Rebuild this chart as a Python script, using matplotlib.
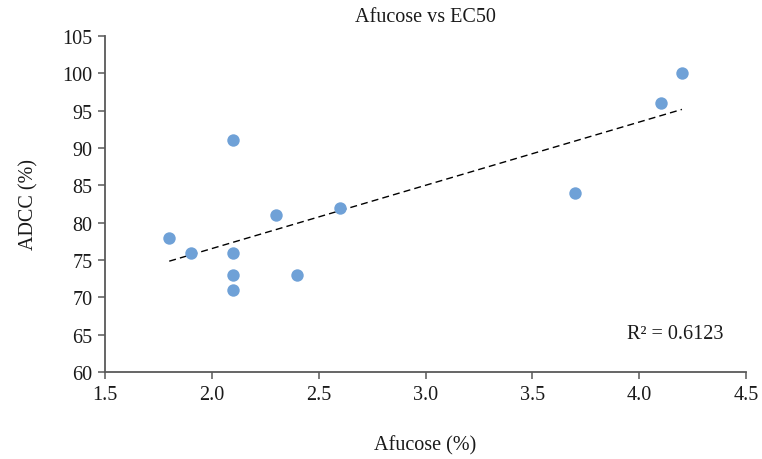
import numpy as np
import matplotlib.pyplot as plt

plt.rcParams['font.family'] = ['Liberation Serif', 'DejaVu Serif']

# afucose content (%) and ADCC activity (%)
afucose = [1.8, 1.9, 2.1, 2.1, 2.1, 2.1, 2.3, 2.4, 2.6, 3.7, 4.1, 4.2]
adcc = [78, 76, 91, 76, 73, 71, 81, 73, 82, 84, 96, 100]
r_squared = 0.6123

x_ticks = [1.5, 2.0, 2.5, 3.0, 3.5, 4.0, 4.5]
y_ticks = [60, 65, 70, 75, 80, 85, 90, 95, 100, 105]

fig = plt.figure(figsize=(7.62, 4.60), dpi=100)
ax = fig.add_axes([0.138, 0.189, 0.841, 0.731])

ax.scatter(afucose, adcc, s=80, color='#6fa1d7', zorder=3, linewidths=0)

# linear trend line over the data range
coef = np.polyfit(afucose, adcc, 1)
xs = np.array([min(afucose), max(afucose)])
ax.plot(xs, np.polyval(coef, xs), color='black', linestyle=(0, (5, 3)), linewidth=1.0)

ax.set_xlim(1.5, 4.5)
ax.set_ylim(60, 105)
ax.set_xticks(x_ticks)
ax.set_xticklabels(['%.1f' % v for v in x_ticks])
ax.set_yticks(y_ticks)

for side in ['top', 'right']:
    ax.spines[side].set_visible(False)
for side in ['left', 'bottom']:
    ax.spines[side].set_color('#595959')
    ax.spines[side].set_linewidth(1.3)

ax.tick_params(direction='out', length=5, width=1.1, color='#595959',
               labelsize=14.5, labelcolor='#1a1a1a', pad=4)

ax.set_title('Afucose vs EC50', fontsize=14.5, color='#1a1a1a', pad=11)
ax.set_xlabel('Afucose (%)', fontsize=14.5, color='#1a1a1a', labelpad=23)
ax.set_ylabel('ADCC (%)', fontsize=14.5, color='#1a1a1a', labelpad=17)

ax.text(0.965, 0.085, 'R² = %.4f' % r_squared, transform=ax.transAxes,
        ha='right', va='bottom', fontsize=14.5, color='#1a1a1a')

fig.savefig('out.png', dpi=100)
